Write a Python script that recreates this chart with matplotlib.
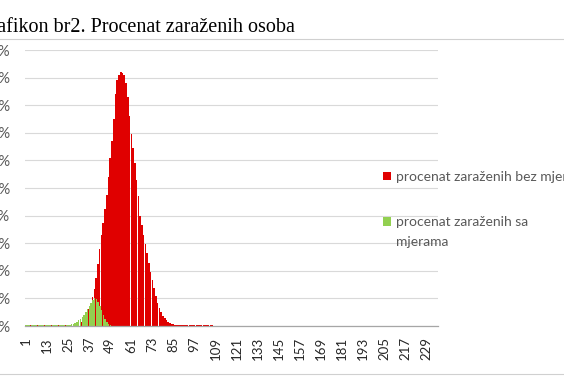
import numpy as np
import matplotlib.pyplot as plt
from matplotlib.lines import Line2D

# Podaci (procenat zaraženih po danima)
n_days = 235
days = np.arange(1, n_days + 1)

red_head = [
    0.03, 0.03, 0.03, 0.03, 0.03, 0.03, 0.03, 0.03, 0.03, 0.03,
    0.03, 0.03, 0.03, 0.03, 0.03, 0.03, 0.03, 0.03, 0.03, 0.03,
    0.03, 0.03, 0.03, 0.03, 0.03, 0.03, 0.03, 0.03, 0.05, 0.06,
    0.08, 0.11, 0.16, 0.23, 0.32, 0.44, 0.60, 0.80, 1.05, 1.35,
    1.75, 2.25, 2.80, 3.30, 3.75, 4.25, 4.75, 5.40, 6.10, 6.70,
    7.50, 8.40, 8.90, 9.10, 9.22, 9.18, 9.10, 8.80, 8.30, 7.60,
    6.95, 6.45, 5.90, 5.30, 4.70, 4.00, 3.65, 3.30, 2.97, 2.63,
    2.30, 1.95, 1.65, 1.38, 1.10, 0.85, 0.65, 0.50, 0.38, 0.28,
    0.21, 0.15, 0.11, 0.08, 0.06, 0.05, 0.04, 0.03, 0.03, 0.03,
    0.03, 0.03, 0.03, 0.03, 0.03, 0.03, 0.03, 0.03, 0.03, 0.03,
    0.03, 0.03, 0.03, 0.03, 0.03, 0.03, 0.03,
]
green_head = [
    0.03, 0.03, 0.03, 0.03, 0.03, 0.03, 0.03, 0.03, 0.03, 0.03,
    0.03, 0.03, 0.03, 0.03, 0.03, 0.03, 0.03, 0.03, 0.03, 0.03,
    0.03, 0.03, 0.03, 0.03, 0.04, 0.05, 0.07, 0.09, 0.12, 0.16,
    0.20, 0.26, 0.33, 0.41, 0.50, 0.60, 0.72, 0.85, 0.95, 1.00,
    0.97, 0.88, 0.74, 0.57, 0.40, 0.25, 0.13, 0.06, 0.03, 0.01,
]
red = np.array(red_head + [0] * (n_days - len(red_head)))
green = np.array(green_head + [0] * (n_days - len(green_head)))

x_labels = [str(d) for d in range(1, n_days + 1, 12)]
y_ticks = [0, 1, 2, 3, 4, 5, 6, 7, 8, 9, 10]
y_labels = ['0%', '1%', '2%', '3%', '4%', '5%', '6%', '7%', '8%', '9%', '10%']

label_red = 'procenat zaraženih bez mjera'
label_green = 'procenat zaraženih sa'
label_green_2 = 'mjerama'

plt.rcParams['font.family'] = ['Lato', 'DejaVu Sans']

fig = plt.figure(figsize=(5.64, 3.76), dpi=100)
ax = fig.add_axes([25 / 564, 1 - 326 / 376, 413 / 564, 276 / 376])

b1 = ax.bar(days, red, width=0.92, color='#E00000', linewidth=0, label=label_red)
b2 = ax.bar(days + 0.08, green, width=0.85, color='#92D050', linewidth=0, label=label_green)

ax.set_xlim(0.5, n_days + 0.5)
ax.set_ylim(0, 10)
ax.set_yticks(y_ticks)
ax.set_yticklabels(y_labels)
ax.set_xticks(range(1, n_days + 1, 12))
ax.set_xticklabels(x_labels, rotation=90)
ax.tick_params(axis='x', length=0, pad=8, labelsize=9.5, labelcolor='#262626')
ax.tick_params(axis='y', length=0, pad=10.5, labelsize=10.5, labelcolor='#595959')
ax.grid(axis='y', color='#d9d9d9', linewidth=0.8)
ax.set_axisbelow(True)
for s in ['top', 'right', 'left']:
    ax.spines[s].set_visible(False)
ax.spines['bottom'].set_color('#a6a6a6')
ax.spines['bottom'].set_linewidth(0.9)

# Naslov (izvan okvira grafikona)
fig.text(295 / 564, 1 - 32 / 376, 'Grafikon br2. Procenat zaraženih osoba',
         ha='right', va='baseline', fontsize=14.5, family='Liberation Serif', color='black')

# Okvir grafikona
fig.add_artist(Line2D([0, 1], [1 - 39 / 376, 1 - 39 / 376], color='#d0d0d0', linewidth=0.8))
fig.add_artist(Line2D([0, 1], [1 - 374 / 376, 1 - 374 / 376], color='#d0d0d0', linewidth=0.8))

leg = ax.legend(handles=[b1, b2], loc='upper left', bbox_to_anchor=(383 / 564, 1 - 171 / 376),
                bbox_transform=fig.transFigure, frameon=False, fontsize=10,
                handlelength=0.55, handleheight=0.55, handletextpad=0.4,
                labelspacing=2.4, borderpad=0, borderaxespad=0)
for t in leg.get_texts():
    t.set_color('#595959')

# drugi red oznake za zelenu seriju
fig.canvas.draw()
bb = leg.get_texts()[1].get_window_extent(fig.canvas.get_renderer())
fig.text(bb.x0 / fig.bbox.width, (bb.y0 - 20) / fig.bbox.height, label_green_2,
         ha='left', va='bottom', fontsize=10, color='#595959')

fig.savefig('out.png', dpi=100)
